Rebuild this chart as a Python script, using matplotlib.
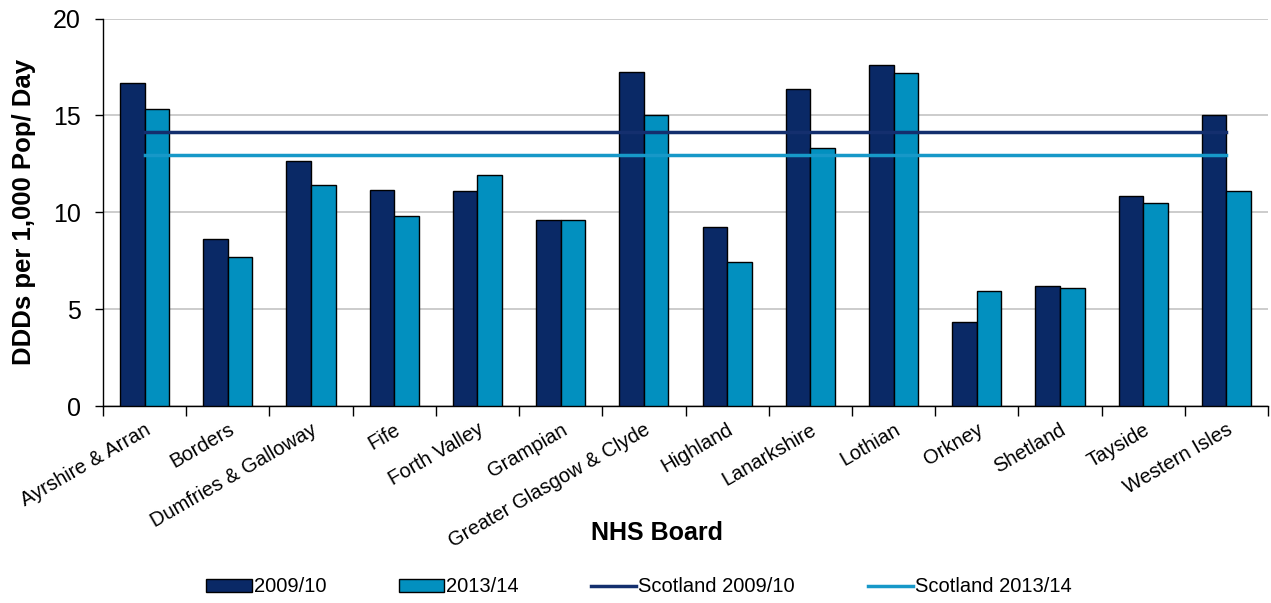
import numpy as np
import matplotlib.pyplot as plt
from matplotlib.patches import Patch
from matplotlib.lines import Line2D

plt.rcParams['font.family'] = ['Liberation Sans', 'DejaVu Sans']

# Datos
boards = ['Ayrshire & Arran', 'Borders', 'Dumfries & Galloway', 'Fife', 'Forth Valley',
          'Grampian', 'Greater Glasgow & Clyde', 'Highland', 'Lanarkshire', 'Lothian',
          'Orkney', 'Shetland', 'Tayside', 'Western Isles']
v2009 = [16.68, 8.60, 12.67, 11.17, 11.10, 9.59, 17.26, 9.25, 16.34, 17.59, 4.34, 6.18, 10.83, 15.02]
v2013 = [15.34, 7.67, 11.43, 9.83, 11.93, 9.59, 15.02, 7.41, 13.33, 17.20, 5.92, 6.08, 10.50, 11.09]
scot2009 = 14.12
scot2013 = 12.97

c_dark = '#0A2966'
c_light = '#0290BF'
c_line_dark = '#142F6E'
c_line_light = '#1798C8'

fig = plt.figure(figsize=(12.71, 6.03), dpi=100)
ax = fig.add_axes([103 / 1271, 197 / 603, 1165 / 1271, 387.5 / 603])

x = np.arange(len(boards))
w = 0.295
ax.bar(x - w / 2, v2009, w, color=c_dark, edgecolor='black', linewidth=1.0, zorder=3)
ax.bar(x + w / 2, v2013, w, color=c_light, edgecolor='black', linewidth=1.0, zorder=3)
ax.plot([x[0], x[-1]], [scot2009, scot2009], color=c_line_dark, lw=2.5, zorder=4)
ax.plot([x[0], x[-1]], [scot2013, scot2013], color=c_line_light, lw=2.5, zorder=4)

ax.set_xlim(-0.5, len(boards) - 0.5)
ax.set_ylim(0, 20)
ax.set_yticks([0, 5, 10, 15, 20])
ax.yaxis.grid(True, color='#C8C8C8', lw=1.3, zorder=0)
ax.set_axisbelow(True)

# marcas entre categorías, etiquetas en el centro
ax.set_xticks(np.arange(-0.5, len(boards), 1))
ax.set_xticklabels([])
ax.set_xticks(x, minor=True)
ax.set_xticklabels(boards, minor=True, rotation=30, ha='right', rotation_mode='anchor', fontsize=14.5)
ax.tick_params(axis='x', which='minor', length=0, pad=10)
ax.tick_params(axis='x', which='major', length=7, width=1)
ax.tick_params(axis='y', labelsize=18, length=6, width=1, pad=10)

for s in ['top', 'right']:
    ax.spines[s].set_visible(False)
for s in ['left', 'bottom']:
    ax.spines[s].set_linewidth(1.0)

ax.set_ylabel('DDDs per 1,000 Pop/ Day', fontsize=18.5, fontweight='bold', labelpad=12)
fig.text(657 / 1271, 1 - 533 / 603, 'NHS Board', fontsize=18, fontweight='bold', ha='center', va='center')

handles = [Patch(facecolor=c_dark, edgecolor='black'),
           Patch(facecolor=c_light, edgecolor='black'),
           Line2D([], [], color=c_line_dark, lw=2.5),
           Line2D([], [], color=c_line_light, lw=2.5)]
labels = ['2009/10', '2013/14', 'Scotland 2009/10', 'Scotland 2013/14']
fig.legend(handles, labels, loc='center', bbox_to_anchor=(639 / 1271, 1 - 587 / 603), ncol=4,
           frameon=False, fontsize=14.5, handlelength=2.25, handleheight=0.62,
           handletextpad=0.1, columnspacing=3.6, borderpad=0)

fig.savefig('out.png', dpi=100)
